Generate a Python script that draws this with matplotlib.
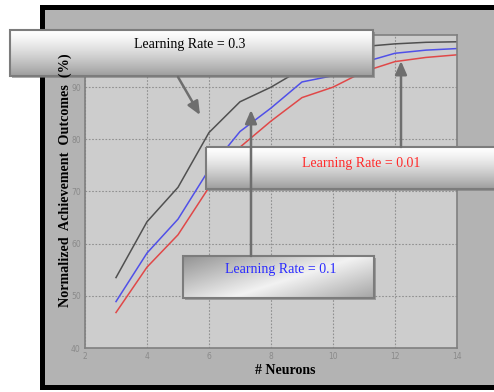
import numpy as np
import matplotlib
matplotlib.use("Agg")
import matplotlib.pyplot as plt
from matplotlib.patches import Rectangle

neurons = [3, 4, 5, 6, 7, 8, 9, 10, 11, 12, 13, 14]
lr_03 = [53.5, 64.2, 70.8, 81.3, 87.2, 90.0, 93.5, 96.0, 97.8, 98.3, 98.6, 98.7]
lr_01 = [48.9, 58.2, 64.7, 74.2, 81.5, 86.0, 91.0, 92.2, 94.8, 96.5, 97.1, 97.4]
lr_001 = [46.8, 55.5, 61.7, 70.8, 78.5, 83.5, 88.0, 90.0, 93.0, 94.9, 95.7, 96.2]

W, H = 494, 392
fig = plt.figure(figsize=(W / 100, H / 100), dpi=100)
fig.patch.set_facecolor("white")

# background frame (pixel coordinates)
bg = fig.add_axes([0, 0, 1, 1])
bg.set_xlim(0, W)
bg.set_ylim(H, 0)
bg.axis("off")
bg.add_patch(Rectangle((40, 5), W - 40, 385, facecolor="black", edgecolor="none"))
bg.add_patch(Rectangle((45, 10), W - 45, 375, facecolor="#b3b3b3", edgecolor="none"))

ax = fig.add_axes([85 / W, (H - 348) / H, (457 - 85) / W, (348 - 35) / H])
ax.set_facecolor("#cdcdcd")
ax.plot(neurons, lr_03, color="#505050", lw=1.1)
ax.plot(neurons, lr_01, color="#5050e8", lw=1.1)
ax.plot(neurons, lr_001, color="#e04848", lw=1.1)
ax.set_xlim(2, 14)
ax.set_ylim(40, 100)
ax.set_xticks([2, 4, 6, 8, 10, 12, 14])
ax.set_yticks([40, 50, 60, 70, 80, 90])
ax.grid(True, color="#909090", linestyle=(0, (1.5, 1.5)), lw=0.8)
ax.tick_params(length=0, labelsize=5.5, labelcolor="#8a8a8a", pad=3)
for s in ax.spines.values():
    s.set_color("#808080")
    s.set_linewidth(1.2)

# overlay for annotation boxes
ov = fig.add_axes([0, 0, 1, 1])
ov.set_xlim(0, W)
ov.set_ylim(H, 0)
ov.axis("off")


def vgrad(n=64):
    t = np.linspace(0, 1, n)
    v = 1.0 - 0.38 * t ** 1.3
    img = np.repeat(v[:, None], 2, axis=1)
    return np.dstack([img, img, img])


def box(x0, y0, x1, y1, img):
    ov.add_patch(Rectangle((x0 + 2, y0 + 2), x1 - x0, y1 - y0, facecolor="#7a7a7a",
                           edgecolor="none", alpha=0.6, zorder=2))
    ov.imshow(img, extent=(x0, x1, y1, y0), aspect="auto", zorder=3, interpolation="bilinear")
    ov.add_patch(Rectangle((x0, y0), x1 - x0, y1 - y0, facecolor="none",
                           edgecolor="#7c7c7c", lw=1.5, zorder=4))


def arrow(x0, y0, x1, y1):
    ov.annotate("", xy=(x1, y1), xytext=(x0, y0), zorder=5,
                arrowprops=dict(arrowstyle="-|>,head_length=0.8,head_width=0.35",
                                color="#6e6e6e", lw=1.8, shrinkA=0, shrinkB=0))


box(10, 30, 373, 76, vgrad())
ov.text(190, 44, "Learning Rate = 0.3", ha="center", va="center", color="black",
        family="Liberation Serif", fontsize=10, zorder=6)
arrow(178, 77, 200, 115)

arrow(401, 147, 401, 61)
box(206, 147, 500, 189, vgrad())
ov.text(361, 163, "Learning Rate = 0.01", ha="center", va="center", color="#ff2a2a",
        family="Liberation Serif", fontsize=10, zorder=6)

arrow(251, 256, 251, 110)
yy, xx = np.mgrid[0:1:40j, 0:1:120j]
d = 1 - np.abs((xx * 0.6 + yy * 0.4) - 0.55) * 1.5
d = 0.5 + 0.45 * np.clip(d, 0, 1)
box(183, 256, 374, 298, np.dstack([d, d, d]))
ov.text(281, 270, "Learning Rate = 0.1", ha="center", va="center", color="#2a2aff",
        family="Liberation Serif", fontsize=10, zorder=6)

ov.text(65, 180, "Normalized  Achievement  Outcomes  (%)", rotation=90,
        ha="center", va="center", family="Liberation Serif", weight="bold",
        fontsize=10.2, zorder=7)
ov.text(285, 370, "# Neurons", ha="center", va="center",
        family="Liberation Serif", weight="bold", fontsize=10, zorder=7)

fig.savefig("out.png", dpi=100)
